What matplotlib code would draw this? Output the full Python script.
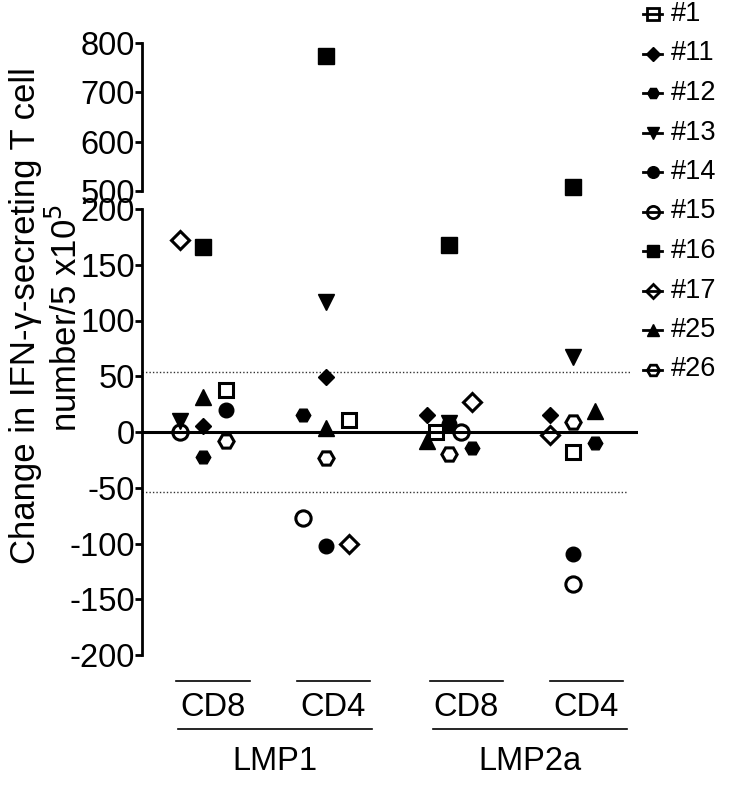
import matplotlib
matplotlib.use("Agg")
import matplotlib.pyplot as plt
from matplotlib.lines import Line2D

plt.rcParams["axes.unicode_minus"] = False

# patients (legend order)
patients = ["#1", "#11", "#12", "#13", "#14", "#15", "#16", "#17", "#25", "#26"]
cells = ["CD8", "CD4", "CD8", "CD4"]
antigens = ["LMP1", "LMP2a"]

# change in IFN-g secreting T cells, one value per patient
lmp1_cd8 = [38, 5, -22, 10, 20, 0, 166, 172, 31, -8]
lmp1_cd4 = [11, 49, 15, 117, -102, -77, 773, -100, 4, -23]
lmp2a_cd8 = [0, 15, -14, 8, 7, 0, 168, 27, -8, -20]
lmp2a_cd4 = [-18, 15, -10, 67, -109, -136, 508, -3, 19, 9]

# sideways spread of overlapping points (like prism does it)
spread_lmp1_cd8 = [1, 0, 0, -1, 1, -1, 0, -1, 0, 1]
spread_lmp1_cd4 = [1, 0, -1, 0, 0, -1, 0, 1, 0, 0]
spread_lmp2a_cd8 = [-0.6, -1, 1, 0, 0, 0.5, 0, 1, -1, 0]
spread_lmp2a_cd4 = [0, -1, 1, 0, 0, 0, 0, -1, 1, 0]

cutoff = 54  # dotted lines

columns = [lmp1_cd8, lmp1_cd4, lmp2a_cd8, lmp2a_cd4]
spreads = [spread_lmp1_cd8, spread_lmp1_cd4, spread_lmp2a_cd8, spread_lmp2a_cd4]

# marker, filled?, size
styles = {
    "#1": ("s", False, 10.5),
    "#11": ("D", True, 8.5),
    "#12": ("H", True, 10.5),
    "#13": ("v", True, 11),
    "#14": ("o", True, 10.5),
    "#15": ("o", False, 11),
    "#16": ("s", True, 11),
    "#17": ("D", False, 9.5),
    "#25": ("^", True, 11),
    "#26": ("H", False, 11),
}

FONT = ["Liberation Sans", "DejaVu Sans"]
NARROW = ["Liberation Sans Narrow", "Liberation Sans", "DejaVu Sans"]

W, H = 740, 801
fig = plt.figure(figsize=(W / 100, H / 100), dpi=100)
left, right = 142, 638
ax_top = fig.add_axes([left / W, 1 - 191 / H, (right - left) / W, 148 / H])
ax = fig.add_axes([left / W, 1 - 655 / H, (right - left) / W, 446 / H])

for a in (ax_top, ax):
    a.set_xlim(-0.495, 3.53)
    for s in ["top", "right", "bottom"]:
        a.spines[s].set_visible(False)
    a.spines["left"].set_linewidth(2.0)
    a.set_xticks([])
    a.tick_params(axis="y", length=5, width=2.0, pad=0, labelsize=23.5)

ax_top.set_ylim(500, 800)
ax_top.set_yticks([500, 600, 700, 800])
ax.set_ylim(-200, 200)
ax.set_yticks(range(-200, 201, 50))
for a in (ax_top, ax):
    for lab in a.get_yticklabels():
        lab.set_family(FONT)

ax.axhline(0, color="black", lw=2.2, zorder=2)
ax.axhline(cutoff, xmax=0.985, color="#333333", lw=1.0, ls=(0, (1, 1.5)), zorder=1)
ax.axhline(-cutoff, xmax=0.98, color="#333333", lw=1.0, ls=(0, (1, 1.5)), zorder=1)

step = 0.185
for c, (vals, spr) in enumerate(zip(columns, spreads)):
    for p, v, s in zip(patients, vals, spr):
        m, filled, ms = styles[p]
        target = ax_top if v > 200 else ax
        target.plot(c + s * step, v, marker=m, ms=ms, color="black",
                    mfc="black" if filled else "none", mew=2.2 if not filled else 1,
                    clip_on=False, zorder=3, ls="none")

# group labels under the axis (figure pixels)
sub_lines = [(176, 250), (297, 370), (430, 503), (550, 623)]
main_lines = [(178, 372), (433, 627)]
for (x0, x1), name in zip(sub_lines, cells):
    fig.add_artist(Line2D([x0 / W, x1 / W], [1 - 681 / H] * 2, color="black", lw=1.2))
    fig.text((x0 + x1) / 2 / W, 1 - 707 / H, name, ha="center", va="center",
             fontsize=23.5, family=NARROW)
for (x0, x1), name in zip(main_lines, antigens):
    fig.add_artist(Line2D([x0 / W, x1 / W], [1 - 729 / H] * 2, color="black", lw=1.2))
    fig.text((x0 + x1) / 2 / W, 1 - 762 / H, name, ha="center", va="center",
             fontsize=23.5, family=NARROW)

# y label (two lines)
fig.text(26 / W, 1 - 316 / H, "Change in IFN-γ-secreting T cell", rotation=90,
         ha="center", va="center", fontsize=25, family=FONT)
fig.text(66 / W, 1 - 318 / H, "number/5 x10$^5$", rotation=90,
         ha="center", va="center", fontsize=25, family=FONT)

# legend
for i, p in enumerate(patients):
    m, filled, ms = styles[p]
    y = 1 - (14 + i * 39.5) / H
    fig.add_artist(Line2D([643 / W, 662 / W], [y, y], color="black", lw=2.0))
    fig.add_artist(Line2D([652.5 / W], [y], marker=m, ms=ms * 0.8, color="black",
                          mfc="black" if filled else "none", mew=2.0 if not filled else 1))
    fig.text(671 / W, y, p, ha="left", va="center", fontsize=19.5, family=NARROW)

fig.savefig("out.png", dpi=100)
